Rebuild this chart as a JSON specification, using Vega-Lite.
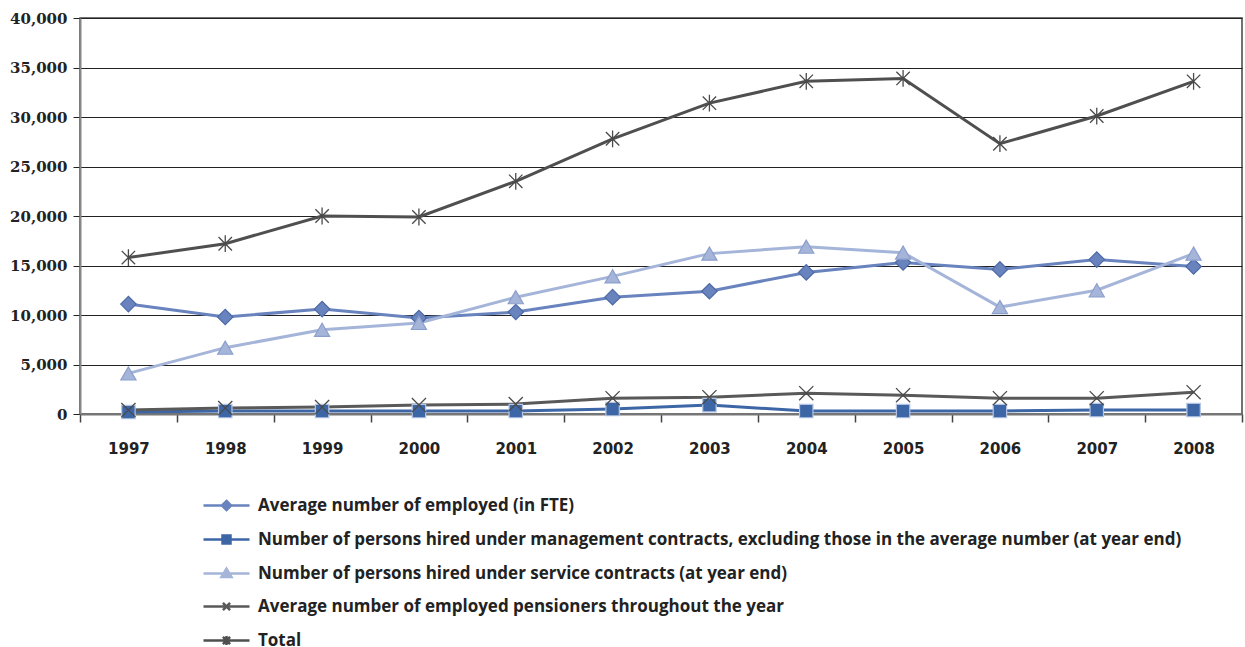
{
  "$schema": "https://vega.github.io/schema/vega-lite/v6.json",
  "width": 1162,
  "height": 396,
  "autosize": {"type": "none"},
  "padding": {"left": 80, "top": 18, "right": 3, "bottom": 233},
  "background": "white",
  "config": {
    "view": {"stroke": "#444", "strokeWidth": 1.5},
    "axis": {"labelColor": "#222", "titleColor": "#222"}
  },
  "data": {
    "values": [
      {"year": "1997", "series": "Average number of employed (in FTE)", "value": 11100},
      {"year": "1998", "series": "Average number of employed (in FTE)", "value": 9800},
      {"year": "1999", "series": "Average number of employed (in FTE)", "value": 10600},
      {"year": "2000", "series": "Average number of employed (in FTE)", "value": 9700},
      {"year": "2001", "series": "Average number of employed (in FTE)", "value": 10300},
      {"year": "2002", "series": "Average number of employed (in FTE)", "value": 11800},
      {"year": "2003", "series": "Average number of employed (in FTE)", "value": 12400},
      {"year": "2004", "series": "Average number of employed (in FTE)", "value": 14300},
      {"year": "2005", "series": "Average number of employed (in FTE)", "value": 15300},
      {"year": "2006", "series": "Average number of employed (in FTE)", "value": 14600},
      {"year": "2007", "series": "Average number of employed (in FTE)", "value": 15600},
      {"year": "2008", "series": "Average number of employed (in FTE)", "value": 14900},
      {"year": "1997", "series": "Number of persons hired under management contracts, excluding those in the average number (at year end)", "value": 200},
      {"year": "1998", "series": "Number of persons hired under management contracts, excluding those in the average number (at year end)", "value": 300},
      {"year": "1999", "series": "Number of persons hired under management contracts, excluding those in the average number (at year end)", "value": 300},
      {"year": "2000", "series": "Number of persons hired under management contracts, excluding those in the average number (at year end)", "value": 300},
      {"year": "2001", "series": "Number of persons hired under management contracts, excluding those in the average number (at year end)", "value": 300},
      {"year": "2002", "series": "Number of persons hired under management contracts, excluding those in the average number (at year end)", "value": 500},
      {"year": "2003", "series": "Number of persons hired under management contracts, excluding those in the average number (at year end)", "value": 900},
      {"year": "2004", "series": "Number of persons hired under management contracts, excluding those in the average number (at year end)", "value": 300},
      {"year": "2005", "series": "Number of persons hired under management contracts, excluding those in the average number (at year end)", "value": 300},
      {"year": "2006", "series": "Number of persons hired under management contracts, excluding those in the average number (at year end)", "value": 300},
      {"year": "2007", "series": "Number of persons hired under management contracts, excluding those in the average number (at year end)", "value": 400},
      {"year": "2008", "series": "Number of persons hired under management contracts, excluding those in the average number (at year end)", "value": 400},
      {"year": "1997", "series": "Number of persons hired under service contracts (at year end)", "value": 4100},
      {"year": "1998", "series": "Number of persons hired under service contracts (at year end)", "value": 6700},
      {"year": "1999", "series": "Number of persons hired under service contracts (at year end)", "value": 8500},
      {"year": "2000", "series": "Number of persons hired under service contracts (at year end)", "value": 9200},
      {"year": "2001", "series": "Number of persons hired under service contracts (at year end)", "value": 11800},
      {"year": "2002", "series": "Number of persons hired under service contracts (at year end)", "value": 13900},
      {"year": "2003", "series": "Number of persons hired under service contracts (at year end)", "value": 16200},
      {"year": "2004", "series": "Number of persons hired under service contracts (at year end)", "value": 16900},
      {"year": "2005", "series": "Number of persons hired under service contracts (at year end)", "value": 16300},
      {"year": "2006", "series": "Number of persons hired under service contracts (at year end)", "value": 10800},
      {"year": "2007", "series": "Number of persons hired under service contracts (at year end)", "value": 12500},
      {"year": "2008", "series": "Number of persons hired under service contracts (at year end)", "value": 16200},
      {"year": "1997", "series": "Average number of employed pensioners throughout the year", "value": 400},
      {"year": "1998", "series": "Average number of employed pensioners throughout the year", "value": 600},
      {"year": "1999", "series": "Average number of employed pensioners throughout the year", "value": 700},
      {"year": "2000", "series": "Average number of employed pensioners throughout the year", "value": 900},
      {"year": "2001", "series": "Average number of employed pensioners throughout the year", "value": 1000},
      {"year": "2002", "series": "Average number of employed pensioners throughout the year", "value": 1600},
      {"year": "2003", "series": "Average number of employed pensioners throughout the year", "value": 1700},
      {"year": "2004", "series": "Average number of employed pensioners throughout the year", "value": 2100},
      {"year": "2005", "series": "Average number of employed pensioners throughout the year", "value": 1900},
      {"year": "2006", "series": "Average number of employed pensioners throughout the year", "value": 1600},
      {"year": "2007", "series": "Average number of employed pensioners throughout the year", "value": 1600},
      {"year": "2008", "series": "Average number of employed pensioners throughout the year", "value": 2200},
      {"year": "1997", "series": "Total", "value": 15800},
      {"year": "1998", "series": "Total", "value": 17200},
      {"year": "1999", "series": "Total", "value": 20000},
      {"year": "2000", "series": "Total", "value": 19900},
      {"year": "2001", "series": "Total", "value": 23500},
      {"year": "2002", "series": "Total", "value": 27800},
      {"year": "2003", "series": "Total", "value": 31400},
      {"year": "2004", "series": "Total", "value": 33600},
      {"year": "2005", "series": "Total", "value": 33900},
      {"year": "2006", "series": "Total", "value": 27300},
      {"year": "2007", "series": "Total", "value": 30100},
      {"year": "2008", "series": "Total", "value": 33600}
    ]
  },
  "encoding": {
    "x": {
      "field": "year", "type": "ordinal", "title": null,
      "scale": {"paddingInner": 0, "paddingOuter": 0},
      "axis": {
        "labelAngle": 0, "tickBand": "extent", "domainColor": "#777", "domainWidth": 2,
        "tickColor": "#444", "tickSize": 8, "tickWidth": 1.5,
        "labelFont": "DejaVu Sans", "labelFontWeight": "bold", "labelFontSize": 15,
        "labelPadding": 19, "grid": false
      }
    },
    "y": {
      "field": "value", "type": "quantitative", "title": null,
      "scale": {"domain": [0, 40000], "nice": false},
      "axis": {
        "values": [0, 5000, 10000, 15000, 20000, 25000, 30000, 35000, 40000],
        "format": ",d", "domainColor": "#888", "domainWidth": 2,
        "tickColor": "#222", "tickSize": 7, "gridColor": "#222", "gridWidth": 1,
        "labelFont": "DejaVu Serif", "labelFontWeight": "bold", "labelFontSize": 15,
        "labelPadding": 6
      }
    }
  },
  "layer": [
    {
      "mark": {"type": "line", "strokeWidth": 3},
      "encoding": {
        "color": {
          "field": "series", "type": "nominal",
          "scale": {
            "domain": ["Average number of employed (in FTE)", "Number of persons hired under management contracts, excluding those in the average number (at year end)", "Number of persons hired under service contracts (at year end)", "Average number of employed pensioners throughout the year", "Total"],
            "range": ["#6883bd", "#3d66a6", "#a5b4d9", "#595959", "#4f4f4f"]
          },
          "legend": {
            "orient": "none", "legendX": 138, "legendY": 479, "title": null,
            "direction": "vertical", "symbolSize": 64, "symbolStrokeWidth": 2.5,
            "labelOffset": 23, "rowPadding": 14, "labelLimit": 1200,
            "labelFont": "Open Sans", "labelFontWeight": "bold", "labelFontSize": 17, "labelColor": "#222",
            "encode": {
              "symbols": {
                "update": {
                  "shape": {"signal": "['M-5.75,0H5.75M0,-1.15L1.15,0L0,1.15L-1.15,0Z','M-5.75,0H5.75M-1,-1H1V1H-1Z','M-5.75,0H5.75M0,-1.2L1.25,0.9H-1.25Z','M-5.75,0H5.75M-0.9,-0.9L0.9,0.9M-0.9,0.9L0.9,-0.9','M-5.75,0H5.75M-0.9,-0.9L0.9,0.9M-0.9,0.9L0.9,-0.9M0,-1.15V1.15'][datum.index]"},
                  "fill": {"signal": "['#6883bd','#3d66a6','#a5b4d9','transparent','transparent'][datum.index]"},
                  "stroke": {"signal": "['#6883bd','#3d66a6','#a5b4d9','#595959','#4f4f4f'][datum.index]"},
                  "strokeWidth": {"value": 2.5},
                  "size": {"value": 64},
                  "opacity": {"value": 1}
                }
              }
            }
          }
        }
      }
    },
    {
      "transform": [{"filter": "datum.series === 'Average number of employed (in FTE)'"}],
      "mark": {"type": "point", "shape": "diamond", "filled": true, "fill": "#6883bd", "stroke": "#4d6aa6", "strokeWidth": 1.2, "size": 240, "opacity": 1}
    },
    {
      "transform": [{"filter": "datum.series === 'Number of persons hired under management contracts, excluding those in the average number (at year end)'"}],
      "mark": {"type": "point", "shape": "square", "filled": true, "fill": "#3d66a6", "stroke": "#b4c4e2", "strokeWidth": 1.2, "size": 180, "opacity": 1}
    },
    {
      "transform": [{"filter": "datum.series === 'Number of persons hired under service contracts (at year end)'"}],
      "mark": {"type": "point", "shape": "triangle-up", "filled": true, "fill": "#a5b4d9", "stroke": "#8c9fcb", "strokeWidth": 1.2, "size": 230, "opacity": 1}
    },
    {
      "transform": [{"filter": "datum.series === 'Average number of employed pensioners throughout the year'"}],
      "mark": {"type": "point", "shape": "M-1,-1L1,1M-1,1L1,-1", "filled": false, "stroke": "#4a4a4a", "strokeWidth": 1.3, "size": 200, "opacity": 1}
    },
    {
      "transform": [{"filter": "datum.series === 'Total'"}],
      "mark": {"type": "point", "shape": "M-1,-1L1,1M-1,1L1,-1M0,-1.25V1.25", "filled": false, "stroke": "#4a4a4a", "strokeWidth": 1.3, "size": 180, "opacity": 1}
    }
  ]
}
